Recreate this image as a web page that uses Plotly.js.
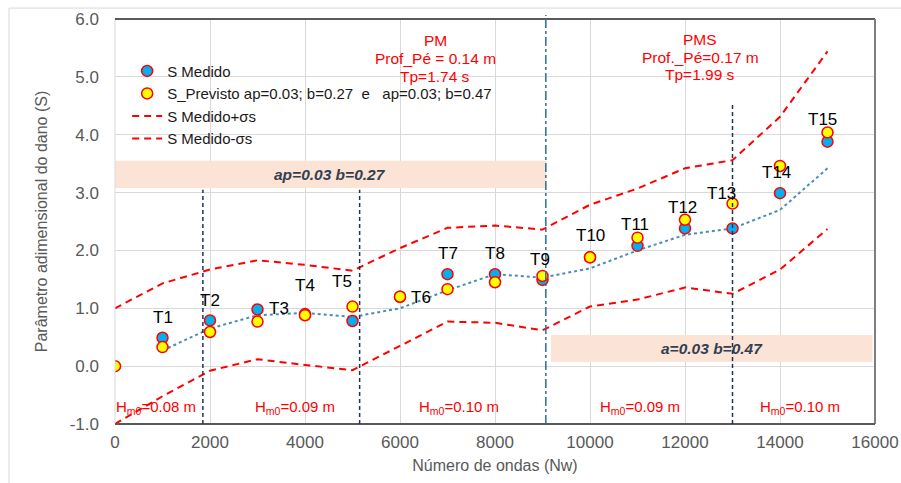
<!DOCTYPE html>
<html>
<head>
<meta charset="utf-8">
<script src="https://cdn.plot.ly/plotly-3.0.1.min.js"></script>
<style>
html,body{margin:0;padding:0;background:#fff;}
#chart{width:901px;height:483px;}
</style>
</head>
<body>
<div id="chart"></div>
<script>
// Data
var nw = [1000,2000,3000,4000,5000,6000,7000,8000,9000,10000,11000,12000,13000,14000,15000];
var sMedido = [0.49,0.79,0.98,0.90,0.78,1.20,1.59,1.59,1.49,1.88,2.08,2.38,2.38,2.99,3.88];
var nwPrev = [0,1000,2000,3000,4000,5000,6000,7000,8000,9000,10000,11000,12000,13000,14000,15000];
var sPrevisto = [0.0,0.33,0.59,0.77,0.88,1.03,1.20,1.33,1.45,1.56,1.88,2.22,2.53,2.81,3.46,4.04];
var nwTrend = [1000,2000,3000,4000,5000,6000,7000,8000,9000,10000,11000,12000,13000,14000,15000];
var sTrend = [0.27,0.65,0.88,0.92,0.85,1.00,1.31,1.59,1.53,1.69,2.00,2.27,2.38,2.70,3.42];
var nwSigma = [0,1000,2000,3000,4000,5000,6000,7000,8000,9000,10000,11000,12000,13000,14000,15000];
var sPlus = [1.0,1.43,1.67,1.83,1.75,1.65,2.04,2.39,2.43,2.36,2.79,3.07,3.42,3.56,4.31,5.44];
var sMinus = [-1.0,-0.52,-0.08,0.12,0.02,-0.07,0.35,0.77,0.75,0.62,1.03,1.15,1.36,1.25,1.67,2.37];
var testLabels = ['T1','T2','T3','T4','T5','T6','T7','T8','T9','T10','T11','T12','T13','T14','T15'];
var labelX = [1000,2000,3450,4000,4780,6440,7000,8000,8940,10000,10950,11940,12760,13930,14900];
var labelY = [0.84,1.14,0.99,1.40,1.47,1.19,1.95,1.95,1.85,2.25,2.44,2.75,2.99,3.34,4.26];
var hm0Labels = ['H<sub>m0</sub>=0.08 m','H<sub>m0</sub>=0.09 m','H<sub>m0</sub>=0.10 m','H<sub>m0</sub>=0.09 m','H<sub>m0</sub>=0.10 m'];
var hm0X = [870,3780,7240,11050,14420];
var yTickVals = [-1,0,1,2,3,4,5,6];
var yTickText = ['-1.0','0.0','1.0','2.0','3.0','4.0','5.0','6.0'];
var pmLines = ['PM','Prof_Pé = 0.14 m','Tp=1.74 s'];
var pmsLines = ['PMS','Prof._Pé=0.17 m','Tp=1.99 s'];
var phaseLines = [1850,5150,13000];
var phaseTops = [3.05,3.05,4.52];
var waveChange = 9070;

var FONT = 'Liberation Sans, Arial, sans-serif';
var traces = [
  {x:nwSigma, y:sPlus, mode:'lines', name:'S Medido+σs', legendrank:3,
   line:{color:'#ff0000', width:2, dash:'7px,5px'}},
  {x:nwSigma, y:sMinus, mode:'lines', name:'S Medido-σs', legendrank:4,
   line:{color:'#ff0000', width:2, dash:'7px,5px'}},
  {x:nwTrend, y:sTrend, mode:'lines', showlegend:false,
   line:{color:'#4a8db5', width:2, dash:'dot'}},
  {x:nw, y:sMedido, mode:'markers', name:'S Medido', legendrank:1,
   marker:{size:11, color:'#00b0f0', line:{color:'#ff0000', width:1.5}}},
  {x:nwPrev, y:sPrevisto, mode:'markers', name:'S_Previsto ap=0.03; b=0.27\u00a0 e \u00a0\u00a0ap=0.03; b=0.47', legendrank:2,
   marker:{size:11, color:'#ffff00', line:{color:'#ff0000', width:1.5}}}
];

// convert a pixel row of the figure to paper y
function py(p){ return (424 - p) / 405; }

var annotations = [];
for (var i=0;i<testLabels.length;i++){
  annotations.push({x:labelX[i], y:labelY[i], xref:'x', yref:'y', text:testLabels[i], showarrow:false,
    font:{family:FONT, size:17, color:'#000000'}});
}
for (var j=0;j<hm0Labels.length;j++){
  annotations.push({x:hm0X[j], y:-0.72, xref:'x', yref:'y', text:hm0Labels[j], showarrow:false,
    font:{family:FONT, size:15, color:'#ff0000'}});
}
var pmRows = [30,48,66], pmsRows = [29,47,64];
for (var m=0;m<3;m++){
  annotations.push({x:6740, y:py(pmRows[m]), xref:'x', yref:'paper', text:pmLines[m], showarrow:false,
    font:{family:FONT, size:15.5, color:'#ff0000'}});
  annotations.push({x:12320, y:py(pmsRows[m]), xref:'x', yref:'paper', text:pmsLines[m], showarrow:false,
    font:{family:FONT, size:15.5, color:'#ff0000'}});
}
annotations.push({x:4530, y:3.32, xref:'x', yref:'y', text:'<b><i>ap=0.03 b=0.27</i></b>', showarrow:false,
  font:{family:FONT, size:15.5, color:'#333f50'}});
annotations.push({x:12570, y:0.31, xref:'x', yref:'y', text:'<b><i>a=0.03 b=0.47</i></b>', showarrow:false,
  font:{family:FONT, size:15.5, color:'#333f50'}});

var shapes = [
  {type:'rect', xref:'x', yref:'y', x0:0, x1:9080, y0:3.08, y1:3.55, fillcolor:'#fbe3d6', line:{width:0}, layer:'between'},
  {type:'rect', xref:'x', yref:'y', x0:9180, x1:15950, y0:0.07, y1:0.54, fillcolor:'#fbe3d6', line:{width:0}, layer:'between'},
  {type:'line', xref:'x', yref:'paper', x0:waveChange, x1:waveChange, y0:0, y1:1.01, line:{color:'#2a6f94', width:1.5, dash:'dashdot'}},
  // frame
  {type:'line', xref:'paper', yref:'paper', x0:0, x1:0, y0:0, y1:1, line:{color:'#d9d9d9', width:1}},
  {type:'line', xref:'paper', yref:'paper', x0:0, x1:1, y0:1, y1:1, line:{color:'#595959', width:2}},
  {type:'line', xref:'paper', yref:'paper', x0:1, x1:1, y0:0, y1:1, line:{color:'#7f7f7f', width:2}},
  {type:'line', xref:'paper', yref:'paper', x0:0, x1:1, y0:0, y1:0, line:{color:'#595959', width:2}},
  // outer border
  {type:'line', xref:'paper', yref:'paper', x0:-0.1395, x1:1.04, y0:1.027, y1:1.027, line:{color:'#d9d9d9', width:1}},
  {type:'line', xref:'paper', yref:'paper', x0:-0.1395, x1:-0.1395, y0:-0.2, y1:1.027, line:{color:'#d9d9d9', width:1}}
];
for (var k=0;k<phaseLines.length;k++){
  shapes.push({type:'line', xref:'x', yref:'y', x0:phaseLines[k], x1:phaseLines[k], y0:-1, y1:phaseTops[k],
    line:{color:'#1f3550', width:1.5, dash:'4px,3px'}});
}

var layout = {
  width:901, height:483,
  margin:{l:115, r:26, t:19, b:59},
  paper_bgcolor:'#ffffff', plot_bgcolor:'#ffffff',
  font:{family:FONT, size:15, color:'#595959'},
  showlegend:true,
  legend:{x:0.016, y:0.912, xanchor:'left', yanchor:'top', bgcolor:'rgba(0,0,0,0)',
    font:{family:FONT, size:15, color:'#1a1a1a'}, tracegroupgap:0},
  xaxis:{range:[0,16000], dtick:2000, tick0:0, tickformat:'d', showgrid:true, gridcolor:'#d9d9d9', gridwidth:1,
    zeroline:false, showline:false, ticks:'', ticklabelstandoff:6,
    tickfont:{family:FONT, size:17, color:'#595959'},
    title:{text:'Número de ondas (Nw)', font:{family:FONT, size:16, color:'#595959'}, standoff:8}},
  yaxis:{range:[-1,6], tickmode:'array', tickvals:yTickVals, ticktext:yTickText, showgrid:true, gridcolor:'#d9d9d9', gridwidth:1,
    zeroline:false, showline:false, ticks:'', ticklabelstandoff:15,
    tickfont:{family:FONT, size:17, color:'#595959'},
    title:{text:'Parâmetro adimensional do dano (S)', font:{family:FONT, size:16, color:'#595959'}, standoff:18}},
  annotations:annotations,
  shapes:shapes
};
Plotly.newPlot('chart', traces, layout, {displayModeBar:false, staticPlot:true});
</script>
</body>
</html>
